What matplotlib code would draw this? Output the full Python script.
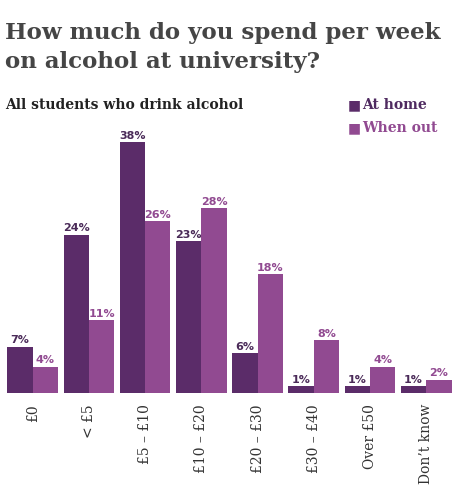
import numpy as np
import matplotlib
matplotlib.use("Agg")
import matplotlib.pyplot as plt

# data
categories = ["£0", "< £5", "£5 – £10", "£10 – £20", "£20 – £30",
              "£30 – £40", "Over £50", "Don’t know"]
at_home = [7, 24, 38, 23, 6, 1, 1, 1]
when_out = [4, 11, 26, 28, 18, 8, 4, 2]

dark = "#5b2c69"
light = "#914a91"
title_col = "#454545"

fig = plt.figure(figsize=(4.6, 4.96), dpi=100)
fig.patch.set_facecolor("white")

ax = fig.add_axes([0.0098, 0.2077, 0.978, 0.532])
x = np.arange(len(categories))
w = 0.45
b1 = ax.bar(x - w / 2, at_home, w, color=dark)
b2 = ax.bar(x + w / 2, when_out, w, color=light)

for rect, v in zip(b1, at_home):
    ax.text(rect.get_x() + rect.get_width() / 2, v + 0.25, f"{v}%",
            ha="center", va="bottom", fontsize=8, fontweight="bold",
            color="#4a2a58", family="DejaVu Sans")
for rect, v in zip(b2, when_out):
    ax.text(rect.get_x() + rect.get_width() / 2, v + 0.25, f"{v}%",
            ha="center", va="bottom", fontsize=8, fontweight="bold",
            color=light, family="DejaVu Sans")

ax.set_xlim(-0.5, len(categories) - 0.5)
ax.set_ylim(0, 40)
ax.set_xticks(x)
ax.set_xticklabels(categories, rotation=90, family="DejaVu Serif",
                   fontsize=10, color="#333333", va="top")
ax.tick_params(axis="x", length=0, pad=8)
ax.set_yticks([])
for s in ax.spines.values():
    s.set_visible(False)

fig.text(0.011, 0.933, "How much do you spend per week", family="DejaVu Serif",
         fontweight="bold", fontsize=16.5, color=title_col, va="center")
fig.text(0.011, 0.875, "on alcohol at university?", family="DejaVu Serif",
         fontweight="bold", fontsize=16.5, color=title_col, va="center")
fig.text(0.011, 0.788, "All students who drink alcohol", family="DejaVu Serif",
         fontweight="bold", fontsize=10, color="#222222", va="center")

# legend
for yy, lab, c, tc in [(0.788, "At home", dark, "#4f2a60"),
                       (0.741, "When out", light, light)]:
    fig.text(0.755, yy, "■", fontsize=10, color=c, va="center",
             family="DejaVu Sans")
    fig.text(0.787, yy, lab, family="DejaVu Serif", fontweight="bold",
             fontsize=10, color=tc, va="center")

fig.savefig("out.png", dpi=100)
